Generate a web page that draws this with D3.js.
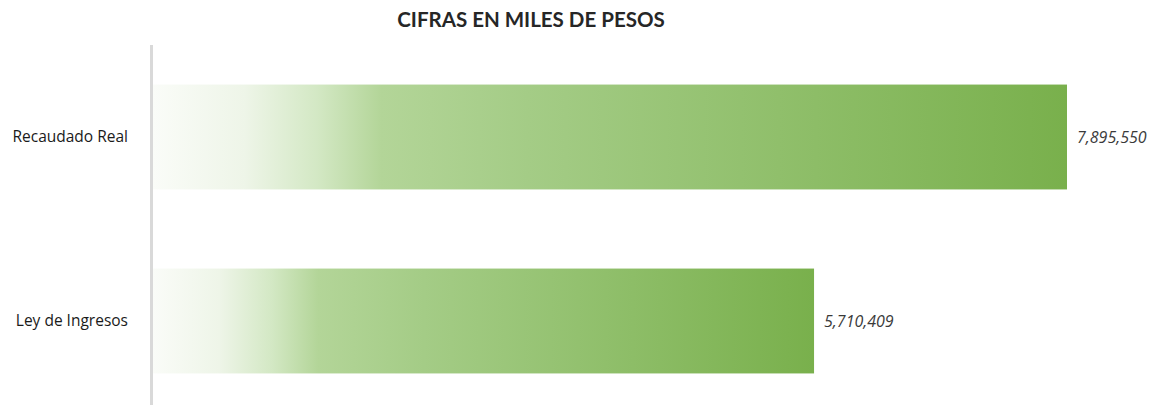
<!DOCTYPE html>
<html>
<head>
<meta charset="utf-8">
<script src="https://cdn.jsdelivr.net/npm/d3@7"></script>
<style>
  body { margin: 0; background: #fff; }
  .title { font-family: Lato, sans-serif; font-weight: bold; font-size: 20.5px; fill: #262626; }
  .cat { font-family: "Open Sans", sans-serif; font-size: 15.5px; fill: #1a1a1a; }
  .val { font-family: "Open Sans", sans-serif; font-style: italic; font-size: 16px; fill: #3a3a3a; }
</style>
</head>
<body>
<svg id="chart"></svg>
<script>
const categories = ["Recaudado Real", "Ley de Ingresos"];
const values = [7895550, 5710409];
const title = "CIFRAS EN MILES DE PESOS";

const size = { w: 1165, h: 406 };
const plot = { l: 153, r: 1067, t: 45, b: 413 };

const svg = d3.select("svg#chart").attr("width", size.w).attr("height", size.h);

const x = d3.scaleLinear().domain([0, d3.max(values)]).range([plot.l, plot.r]);
const y = d3.scaleBand().domain(categories).range([plot.t, plot.b])
  .paddingInner(0.43).paddingOuter(0.215);

// gradient fill for bars
const grad = svg.append("defs").append("linearGradient")
  .attr("id", "barGrad").attr("x1", "0%").attr("x2", "100%");
grad.selectAll("stop")
  .data([
    { offset: "0%", color: "#fafcf8" },
    { offset: "10%", color: "#eef5e8" },
    { offset: "18%", color: "#d3e8c4" },
    { offset: "25%", color: "#b3d598" },
    { offset: "41%", color: "#a4cc86" },
    { offset: "100%", color: "#79b04c" },
  ])
  .join("stop")
  .attr("offset", (d) => d.offset)
  .attr("stop-color", (d) => d.color);

svg.append("text").attr("class", "title")
  .attr("x", 531).attr("y", 27).attr("text-anchor", "middle").text(title);

// bars
svg.selectAll("rect.bar")
  .data(categories)
  .join("rect")
  .attr("class", "bar")
  .attr("x", x(0))
  .attr("y", (d) => y(d))
  .attr("width", (d, i) => x(values[i]) - x(0))
  .attr("height", y.bandwidth())
  .attr("fill", "url(#barGrad)");

// vertical axis line
svg.append("line")
  .attr("x1", x(0) - 1.5).attr("x2", x(0) - 1.5)
  .attr("y1", plot.t).attr("y2", 405)
  .attr("stroke", "#d9d9d9").attr("stroke-width", 3);

// category labels
svg.selectAll("text.cat")
  .data(categories)
  .join("text")
  .attr("class", "cat")
  .attr("x", 128)
  .attr("y", (d) => y(d) + y.bandwidth() / 2)
  .attr("dy", "0.35em")
  .attr("text-anchor", "end")
  .text((d) => d);

// value labels
const fmt = d3.format(",");
svg.selectAll("text.val")
  .data(categories)
  .join("text")
  .attr("class", "val")
  .attr("x", (d, i) => x(values[i]) + 10)
  .attr("y", (d) => y(d) + y.bandwidth() / 2)
  .attr("dy", "0.35em")
  .text((d, i) => fmt(values[i]));
</script>
</body>
</html>
